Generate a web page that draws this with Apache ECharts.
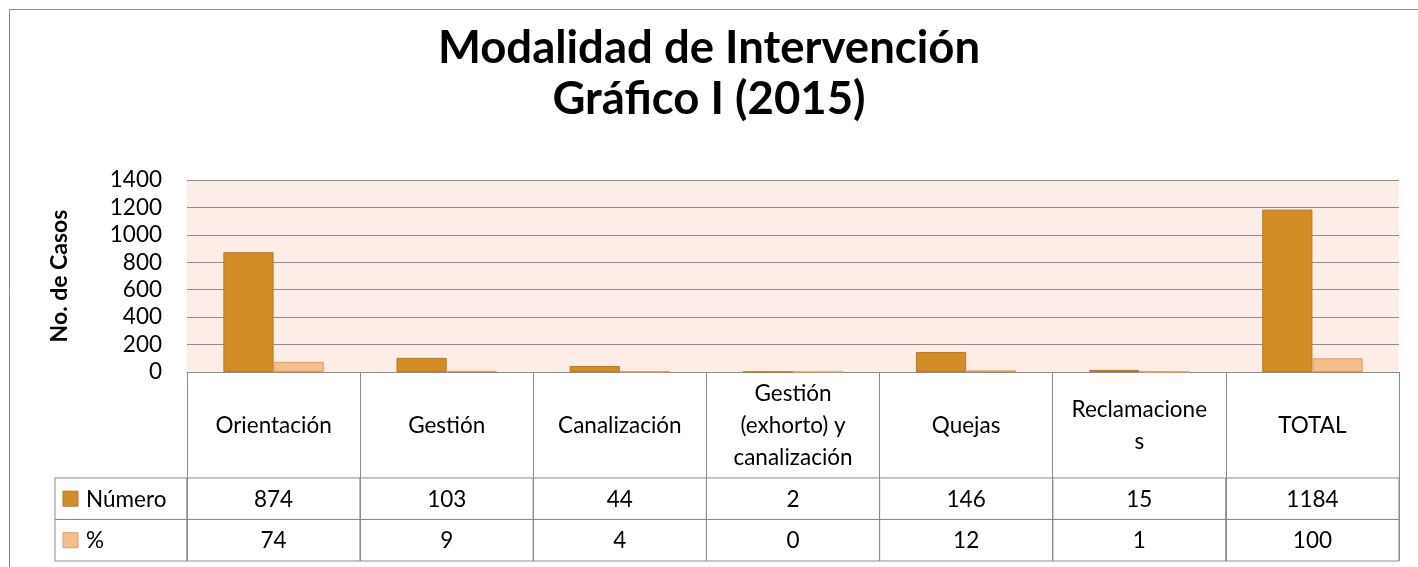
<!DOCTYPE html>
<html>
<head>
<meta charset="utf-8">
<script src="https://cdn.jsdelivr.net/npm/echarts@6/dist/echarts.min.js"></script>
<style>
html,body{margin:0;padding:0;background:#fff;}
#c{width:1418px;height:567px;}
</style>
</head>
<body>
<div id="c"></div>
<script>
// ---- data ----
const categories = ['Orientación', 'Gestión', 'Canalización', 'Gestión (exhorto) y canalización', 'Quejas', 'Reclamaciones', 'TOTAL'];
const headerLabels = ['Orientación', 'Gestión', 'Canalización', 'Gestión\n(exhorto) y\ncanalización', 'Quejas', 'Reclamacione\ns', 'TOTAL'];
const seriesNames = ['Número', '%'];
const numero = [874, 103, 44, 2, 146, 15, 1184];
const porcentaje = [74, 9, 4, 0, 12, 1, 100];
const yTicks = [0, 200, 400, 600, 800, 1000, 1200, 1400];

// ---- styles / layout ----
const FONT = 'Lato, "Open Sans", sans-serif';
const FS = 22.5;
const C_NUM = '#D38D27', C_NUM_B = '#B8791F';
const C_PCT = '#F5BE8C', C_PCT_B = '#D9A063';
const GRID_LINE = '#8C8C8C';
const PLOT_L = 187, PLOT_R = 19, PLOT_T = 180, PLOT_H = 192;
const TABLE_T = 372, TABLE_H = 189;
const LEGEND_W = 132;
// table rows on the table's y scale: header, Número, %
const ROWS = [[0, 2.55], [2.55, 3.55], [3.55, 4.55]];

const tableData = [];
seriesNames.forEach((n, r) => tableData.push([-1, r + 1, n]));
numero.forEach((v, i) => tableData.push([i, 1, String(v)]));
porcentaje.forEach((v, i) => tableData.push([i, 2, String(v)]));

const chart = echarts.init(document.getElementById('c'), null, {renderer: 'canvas'});

function renderCell(params, api) {
  const c = api.value(0), r = api.value(1), txt = api.value(2);
  const w = api.size([1, 0])[0];
  let x0, x1;
  if (c < 0) {
    x1 = api.coord([0, 0])[0] - w / 2;
    x0 = x1 - LEGEND_W;
  } else {
    const cx = api.coord([c, 0])[0];
    x0 = cx - w / 2; x1 = cx + w / 2;
  }
  const y0 = api.coord([0, ROWS[r][0]])[1];
  const y1 = api.coord([0, ROWS[r][1]])[1];
  const children = [{
    type: 'rect',
    shape: {x: x0, y: y0, width: x1 - x0, height: y1 - y0},
    style: {fill: 'none', stroke: GRID_LINE, lineWidth: 1}
  }];
  if (c < 0) {
    const sq = 15;
    children.push({
      type: 'rect',
      shape: {x: x0 + 8, y: (y0 + y1) / 2 - sq / 2, width: sq, height: sq},
      style: {fill: r === 1 ? C_NUM : C_PCT, stroke: r === 1 ? C_NUM_B : C_PCT_B, lineWidth: 1}
    });
    children.push({
      type: 'text',
      style: {x: x0 + 31, y: (y0 + y1) / 2 + 1, text: txt, fill: '#000', font: FS + 'px ' + FONT,
        verticalAlign: 'middle', align: 'left'}
    });
  } else {
    children.push({
      type: 'text',
      style: {x: (x0 + x1) / 2, y: (y0 + y1) / 2 + 1, text: txt, fill: '#000', font: FS + 'px ' + FONT,
        verticalAlign: 'middle', align: 'center'}
    });
  }
  return {type: 'group', children};
}

const option = {
  animation: false,
  backgroundColor: '#fff',
  textStyle: {fontFamily: FONT},
  title: {
    text: 'Modalidad de Intervención\nGráfico I (2015)',
    left: 'center', top: 18,
    textStyle: {fontFamily: FONT, fontSize: 45.5, fontWeight: 'bold', color: '#000', lineHeight: 51}
  },
  graphic: [{
    type: 'rect', silent: true, z: 100,
    shape: {x: 9.5, y: 9.5, width: 1430, height: 620},
    style: {fill: 'none', stroke: '#8A8A8A', lineWidth: 1}
  }],
  grid: [
    {left: PLOT_L, right: PLOT_R, top: PLOT_T, height: PLOT_H, show: true, backgroundColor: '#FCEEE6', borderWidth: 0, containLabel: false},
    {left: PLOT_L, right: PLOT_R, top: TABLE_T, height: TABLE_H, show: false, containLabel: false}
  ],
  xAxis: [
    {type: 'category', gridIndex: 0, data: categories, axisLine: {show: true, lineStyle: {color: GRID_LINE, width: 1}},
      axisTick: {show: false}, axisLabel: {show: false}},
    {type: 'category', gridIndex: 1, data: categories, position: 'top',
      axisLine: {show: false}, axisTick: {show: false},
      splitLine: {show: true, lineStyle: {color: GRID_LINE, width: 1}},
      axisLabel: {show: true, inside: true, margin: 54, color: '#000', fontSize: FS, lineHeight: 32, fontFamily: FONT,
        align: 'center', verticalAlign: 'middle', interval: 0,
        formatter: (v, i) => headerLabels[i]}}
  ],
  yAxis: [
    {type: 'value', gridIndex: 0, min: yTicks[0], max: yTicks[yTicks.length - 1], interval: yTicks[1] - yTicks[0],
      axisLine: {show: false}, axisTick: {show: false},
      axisLabel: {color: '#000', fontSize: FS, margin: 25, fontFamily: FONT, formatter: v => String(v)},
      splitLine: {show: true, lineStyle: {color: GRID_LINE, width: 1}},
      name: 'No. de Casos', nameLocation: 'middle', nameRotate: 90, nameGap: 116,
      nameTextStyle: {color: '#000', fontSize: 23, fontWeight: 'bold', fontFamily: FONT}},
    {type: 'value', gridIndex: 1, min: 0, max: ROWS[2][1], inverse: true, show: false}
  ],
  series: [
    {name: seriesNames[0], type: 'bar', xAxisIndex: 0, yAxisIndex: 0, data: numero,
      barGap: '0%', barCategoryGap: '42%',
      itemStyle: {color: C_NUM, borderColor: C_NUM_B, borderWidth: 1}},
    {name: seriesNames[1], type: 'bar', xAxisIndex: 0, yAxisIndex: 0, data: porcentaje,
      barGap: '0%', barCategoryGap: '42%',
      itemStyle: {color: C_PCT, borderColor: C_PCT_B, borderWidth: 1}},
    {type: 'custom', xAxisIndex: 1, yAxisIndex: 1, data: tableData, renderItem: renderCell, clip: false, silent: true}
  ]
};
chart.setOption(option);
</script>
</body>
</html>
